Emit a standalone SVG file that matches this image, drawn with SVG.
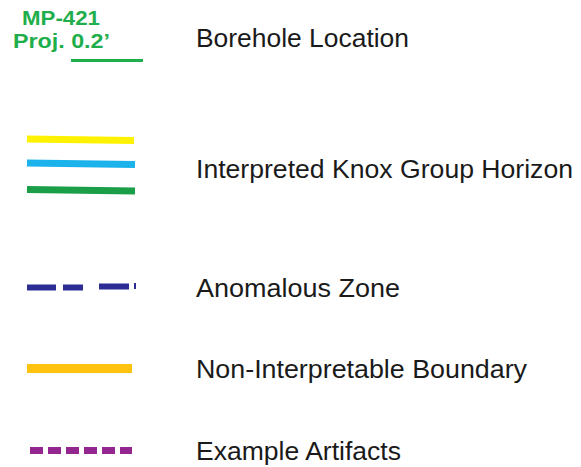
<svg xmlns="http://www.w3.org/2000/svg" width="581" height="467" viewBox="0 0 581 467">
  <style>
    .label { font-family: "Liberation Sans", Arial, sans-serif; font-size: 25px; fill: #1a1a1a; }
    .tag { font-family: "Liberation Sans", Arial, sans-serif; font-size: 21px; font-weight: bold; fill: #1fae4c; }
    .sym { fill: none; stroke-linecap: butt; }
  </style>
  <rect width="581" height="467" fill="#ffffff"/>

  <!-- Borehole location -->
  <g id="borehole">
    <text class="tag" x="22" y="24.5" textLength="78" lengthAdjust="spacingAndGlyphs">MP-421</text>
    <text class="tag" x="13" y="47.5" textLength="97" lengthAdjust="spacingAndGlyphs">Proj. 0.2’</text>
    <line class="sym" x1="71" y1="60.5" x2="143" y2="60.5" stroke="#1fae4c" stroke-width="3"/>
    <text class="label" x="196" y="47" textLength="213" lengthAdjust="spacingAndGlyphs">Borehole Location</text>
  </g>

  <!-- Interpreted Knox Group horizon -->
  <g id="knox-horizon">
    <line class="sym" x1="27" y1="139" x2="134" y2="140.5" stroke="#fff200" stroke-width="7"/>
    <line class="sym" x1="27" y1="163" x2="135" y2="164.5" stroke="#1cb2ec" stroke-width="7"/>
    <line class="sym" x1="27" y1="189.5" x2="135" y2="191" stroke="#1a9e48" stroke-width="7"/>
    <text class="label" x="196" y="178" textLength="377" lengthAdjust="spacingAndGlyphs">Interpreted Knox Group Horizon</text>
  </g>

  <!-- Anomalous zone -->
  <g id="anomalous-zone">
    <path class="sym" d="M27 287.5H56M63 287.5H83M99 286.5H129M134 286H136" stroke="#2b2d94" stroke-width="6"/>
    <text class="label" x="196" y="297" textLength="204" lengthAdjust="spacingAndGlyphs">Anomalous Zone</text>
  </g>

  <!-- Non-interpretable boundary -->
  <g id="non-interpretable">
    <line class="sym" x1="27" y1="368.5" x2="132" y2="368.5" stroke="#ffc20e" stroke-width="9"/>
    <text class="label" x="196" y="378" textLength="331" lengthAdjust="spacingAndGlyphs">Non-Interpretable Boundary</text>
  </g>

  <!-- Example artifacts -->
  <g id="example-artifacts">
    <line class="sym" x1="30" y1="450.5" x2="132" y2="450.5" stroke="#93278f" stroke-width="7" stroke-dasharray="13 5"/>
    <text class="label" x="196" y="460" textLength="205" lengthAdjust="spacingAndGlyphs">Example Artifacts</text>
  </g>
</svg>
